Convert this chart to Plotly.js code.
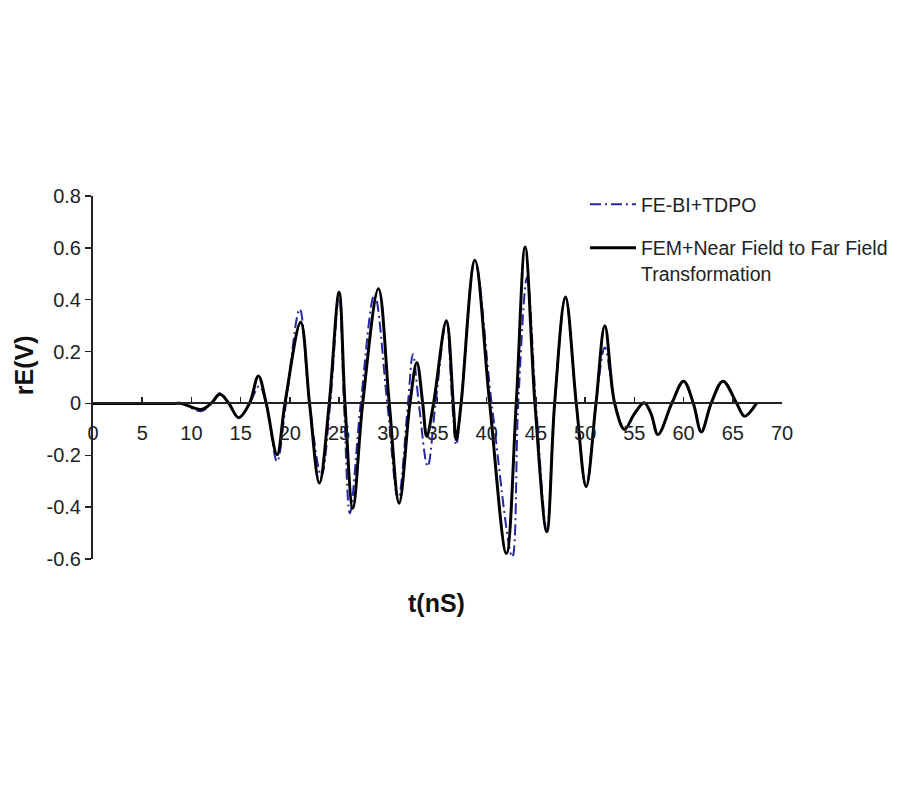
<!DOCTYPE html>
<html>
<head>
<meta charset="utf-8">
<script src="https://cdn.plot.ly/plotly-3.0.1.min.js"></script>
<style>body{margin:0;background:#fff}#chart{width:900px;height:800px}</style>
</head>
<body>
<div id="chart"></div>
<script>
// FEM + Near Field to Far Field Transformation (black solid)
var femT = [0, 3, 6, 8.3, 9, 11, 12, 12.9, 13.8, 14.8, 15.9, 16.8, 17.6, 18.7, 19.5, 21.1, 22.0, 23.0, 24.0, 25.0, 25.6, 26.4, 27.4, 29.0, 30.1, 31.1, 32.2, 32.9, 33.5, 33.9, 34.6, 35.9, 36.6, 36.9, 37.4, 38.8, 40.3, 42.0, 43.0, 43.9, 44.9, 46.1, 46.9, 48.0, 49.1, 50.1, 51.1, 52.0, 53.0, 54.0, 55.0, 56.0, 56.7, 57.4, 58.8, 60.0, 61.0, 61.8, 62.8, 64.0, 65.4, 66.2, 67.4];
var femV = [0, 0, 0, 0, 0, -0.023, 0, 0.035, 0, -0.055, 0, 0.106, 0, -0.198, 0, 0.313, 0, -0.307, 0, 0.429, 0, -0.404, 0, 0.442, 0, -0.385, 0, 0.158, 0, -0.127, 0, 0.319, 0, -0.14, 0, 0.552, 0, -0.579, 0, 0.603, 0, -0.495, 0, 0.41, 0, -0.32, 0, 0.30, 0, -0.10, -0.04, 0.003, -0.04, -0.12, 0, 0.086, 0, -0.11, 0, 0.086, 0, -0.049, 0];

// FE-BI + TDPO (blue dash-dot)
var tdpoT = [0, 3, 6, 8.3, 9, 11, 12, 12.9, 13.8, 14.8, 15.9, 16.9, 17.6, 18.7, 19.6, 21.0, 22.0, 23.2, 24.1, 25.0, 25.5, 26.1, 27.2, 28.6, 29.9, 31.0, 32.0, 32.5, 33.1, 34.0, 34.8, 35.9, 36.5, 36.9, 37.4, 38.8, 40.5, 42.6, 43.2, 44.1, 45.0, 46.1, 46.9, 48.0, 49.1, 50.1, 51.1, 52.0, 53.0, 54.0, 55.0, 56.0, 56.7, 57.4, 58.8, 60.0, 61.0, 61.8, 62.8, 64.0, 65.4, 66.2, 67.4];
var tdpoV = [0, 0, 0, 0, 0, -0.03, 0, 0.04, 0, -0.055, 0, 0.067, 0, -0.224, 0, 0.364, 0, -0.28, 0, 0.42, 0, -0.424, 0, 0.42, 0, -0.37, 0, 0.19, 0, -0.243, 0, 0.32, 0, -0.16, 0, 0.55, 0, -0.592, 0, 0.487, 0, -0.49, 0, 0.41, 0, -0.32, 0, 0.216, 0, -0.10, -0.04, 0.003, -0.04, -0.12, 0, 0.086, 0, -0.11, 0, 0.086, 0, -0.049, 0];

var xTicks = [0, 5, 10, 15, 20, 25, 30, 35, 40, 45, 50, 55, 60, 65, 70];
var yTicks = [0.8, 0.6, 0.4, 0.2, 0, -0.2, -0.4, -0.6];
var yTickText = ["0.8", "0.6", "0.4", "0.2", "0", "-0.2", "-0.4", "-0.6"];

var font = "Liberation Sans, Arial, sans-serif";

var traces = [
  {
    x: tdpoT, y: tdpoV, type: 'scatter', mode: 'lines',
    name: 'FE-BI+TDPO', legendgroup: 'a',
    line: {color: '#2626a6', width: 2, dash: '11px,4px,2px,4px', shape: 'spline', smoothing: 1}
  },
  {
    x: femT, y: femV, type: 'scatter', mode: 'lines',
    name: 'FEM+Near Field to Far Field<br>Transformation', legendgroup: 'b',
    line: {color: '#000000', width: 3, shape: 'spline', smoothing: 1}
  }
];

var layout = {
  width: 900, height: 800,
  margin: {l: 93, r: 118, t: 196, b: 241, autoexpand: false},
  paper_bgcolor: '#fff', plot_bgcolor: '#fff',
  font: {family: font, size: 19, color: '#222'},
  showlegend: true,
  legend: {
    x: 0.714, y: 1.03, xanchor: 'left', yanchor: 'top',
    bgcolor: 'rgba(0,0,0,0)', traceorder: 'grouped', tracegroupgap: 15,
    itemwidth: 46, valign: 'top',
    font: {family: font, size: 19.5, color: '#222'}
  },
  xaxis: {
    range: [0, 70], anchor: 'free', position: 0.428571,
    tickvals: xTicks, ticktext: xTicks.map(String),
    showline: true, linecolor: '#222', linewidth: 2,
    ticks: 'inside', ticklen: 5, tickcolor: '#222', tickwidth: 1.5,
    ticklabelstandoff: 12,
    showgrid: false, zeroline: false,
    tickfont: {family: font, size: 20, color: '#222'}
  },
  yaxis: {
    range: [-0.6, 0.8],
    tickvals: yTicks, ticktext: yTickText,
    showline: true, linecolor: '#222', linewidth: 2,
    ticks: 'outside', ticklen: 6, tickcolor: '#222', tickwidth: 1.5,
    showgrid: false, zeroline: false,
    tickfont: {family: font, size: 20, color: '#222'}
  },
  annotations: [
    {text: '<b>t(nS)</b>', xref: 'paper', yref: 'paper', x: 0.499, y: -0.121,
     xanchor: 'center', yanchor: 'middle', showarrow: false,
     font: {family: font, size: 25, color: '#111'}},
    {text: '<b>rE(V)</b>', xref: 'paper', yref: 'paper', x: -0.100, y: 0.534,
     xanchor: 'center', yanchor: 'middle', showarrow: false, textangle: -90,
     font: {family: font, size: 25, color: '#111'}}
  ]
};

Plotly.newPlot('chart', traces, layout, {displayModeBar: false, staticPlot: true});
</script>
</body>
</html>
